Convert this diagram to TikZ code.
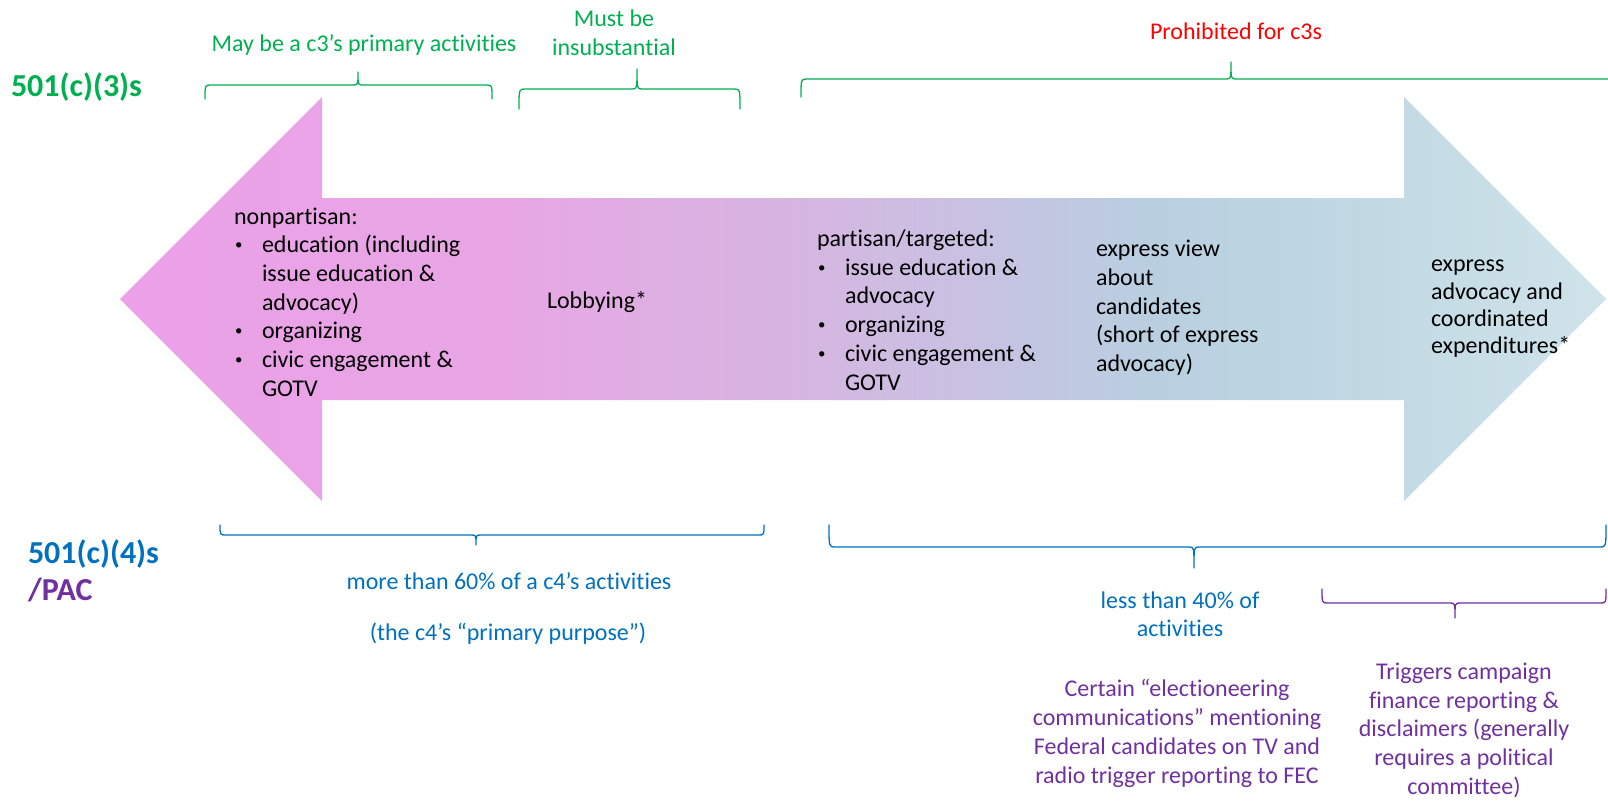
\documentclass[tikz,border=0pt]{standalone}
\usepackage{graphicx}
\usepackage{fontspec}
\setmainfont{Carlito}[Ligatures={NoCommon}]

% label colours
\definecolor{cgreen}{HTML}{00B050}
\definecolor{cblue}{HTML}{0070C0}
\definecolor{cpurple}{HTML}{7030A0}
\definecolor{cred}{HTML}{FF0000}
% colours along the spectrum arrow, left to right
\definecolor{ar1}{RGB}{235,160,232}
\definecolor{ar2}{RGB}{232,166,229}
\definecolor{ar3}{RGB}{214,182,225}
\definecolor{ar4}{RGB}{198,195,226}
\definecolor{ar5}{RGB}{185,207,224}
\definecolor{ar6}{RGB}{190,214,226}
\definecolor{ar7}{RGB}{207,227,234}
\pgfdeclarehorizontalshading{arrowfill}{100bp}{color(0bp)=(ar1); color(25bp)=(ar1);
  color(37.8bp)=(ar2); color(47.9bp)=(ar3); color(54.6bp)=(ar4); color(59.7bp)=(ar5);
  color(64.7bp)=(ar6); color(75bp)=(ar7); color(100bp)=(ar7)}

% bullet and hanging indent for the activity lists
\newcommand\bul{\makebox[28pt][l]{\hspace{1pt}\raisebox{0.13em}{\scalebox{0.62}{\textbullet}}}}
\newcommand\ind{\hspace*{28pt}}
\newcommand\lns[2]{\begin{tabular}[t]{@{}#1@{}}#2\end{tabular}}

% curly brace: style, left x, right x, tip x, end y, line y, tip y
\newcommand\curlybrace[7]{%
  \draw[#1] (#2,#5) .. controls (#2,#6) .. (#2+6,#6) -- (#4-5,#6)
    .. controls (#4,#6) .. (#4,#7) .. controls (#4,#6) .. (#4+5,#6)
    -- (#3-6,#6) .. controls (#3,#6) .. (#3,#5);}

\begin{document}
\begin{tikzpicture}[x=1pt,y=-1pt,
  every node/.style={inner sep=0pt, outer sep=0pt},
  body/.style={font=\fontsize{24}{28.7}\selectfont, anchor=base west},
  small/.style={font=\fontsize{24}{28.4}\selectfont, anchor=base},
  note/.style={font=\fontsize{24}{28.8}\selectfont, anchor=base, text=cpurple},
  head/.style={font=\fontsize{32}{37}\selectfont\bfseries, anchor=base west},
  bracepen/.style={line width=1.3pt, line cap=round, line join=round}]

\useasboundingbox (0,0) rectangle (1608,800);

% double-headed spectrum arrow
\shade[shading=arrowfill] (120,299) -- (322,97) -- (322,198) -- (1404,198) -- (1404,97)
  -- (1606,299) -- (1404,501) -- (1404,400) -- (322,400) -- (322,501) -- cycle;

% row headings
\node[head, text=cgreen] (c3) at (11,96.7) {501(c)(3)s};
\node[head, text=cblue] (c4) at (28,563) {501(c)(4)s};
\node[head, text=cpurple] (pac) at (28,600) {/PAC};

% braces above the arrow
\curlybrace{bracepen, cgreen}{205}{492}{358}{99}{85}{72}
\curlybrace{bracepen, cgreen}{519}{740}{637}{109}{89}{69}
\curlybrace{bracepen, cgreen}{801}{1625}{1231}{97}{79}{62}

% braces below the arrow
\curlybrace{bracepen, cblue}{220}{764}{476}{525}{535}{545}
\curlybrace{bracepen, cblue}{829}{1606}{1194}{525}{547}{568}
\curlybrace{bracepen, cpurple}{1322}{1606}{1455}{589}{603}{618}

% labels above
\node[small, text=cgreen] (primary) at (364,51.7) {May be a c3’s primary activities};
\node[small, text=cgreen] (insub) at (614,26.7) {\lns{c}{Must be\\insubstantial}};
\node[small, text=cred] (prohib) at (1236,39.5) {Prohibited for c3s};

% labels below
\node[small, text=cblue] (sixty) at (509,589.3) {more than 60\% of a c4’s activities};
\node[small, text=cblue] (purpose) at (508,640) {(the c4’s “primary purpose”)};
\node[small, text=cblue] (forty) at (1180,608.3) {\lns{c}{less than 40\% of\\activities}};
\node[note] (electioneering) at (1177,696.7) {\lns{c}{Certain “electioneering\\communications” mentioning\\Federal candidates on TV and\\radio trigger reporting to FEC}};
\node[note] (triggers) at (1464,679.3) {\lns{c}{Triggers campaign\\finance reporting \&\\disclaimers (generally\\requires a political\\committee)}};

% activities inside the arrow
\node[body] (nonpartisan) at (234,224) {\lns{l}{nonpartisan:\\
  \bul education (including\\
  \ind issue education \&\\
  \ind advocacy)\\
  \bul organizing\\
  \bul civic engagement \&\\
  \ind GOTV}};
\node[body] (lobbying) at (547,308) {Lobbying*};
\node[body] (partisan) at (817,246.5) {\lns{l}{partisan/targeted:\\
  \bul issue education \&\\
  \ind advocacy\\
  \bul organizing\\
  \bul civic engagement \&\\
  \ind GOTV}};
\node[body] (expview) at (1096,256.7) {\lns{l}{express view\\about\\candidates\\(short of express\\advocacy)}};
\node[body, font=\fontsize{24}{27.3}\selectfont] (expadv) at (1431,271.7) {\lns{l}{express\\advocacy and\\coordinated\\expenditures*}};

\end{tikzpicture}
\end{document}
